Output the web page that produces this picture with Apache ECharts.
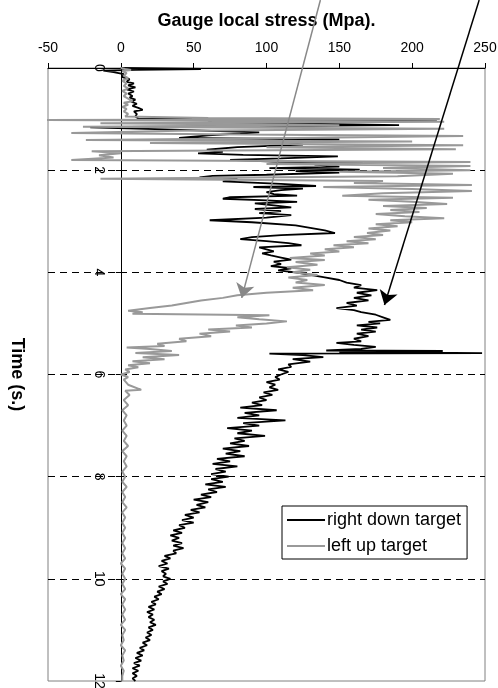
<!DOCTYPE html>
<html><head><meta charset="utf-8">
<script src="https://cdn.jsdelivr.net/npm/echarts@6/dist/echarts.min.js"></script>
<style>html,body{margin:0;padding:0;background:#fff}#c{width:498px;height:688px}</style>
</head><body><div id="c"></div>
<script>
// Time (s.) and gauge local stress (Mpa)
const rightTime = [0,0.02,0.035,0.05,0.08,0.12,0.18,0.22,0.27,0.30,0.34,0.38,0.42,0.46,0.50,0.55,0.58,0.62,0.66,0.70,0.74,0.78,0.82,0.85,0.90,0.95,0.99,
1.01,1.06,1.12,1.16,1.20,1.26,1.32,1.37,1.40,1.44,1.50,1.55,1.60,1.64,1.67,1.70,1.73,1.77,1.80,1.83,1.86,1.89,1.93,1.96,1.99,2.02,2.05,2.09,2.11,2.14,2.17,2.22,2.27,2.31,2.33,2.36,2.39,2.43,2.47,2.50,2.53,2.56,2.59,2.62,2.65,2.69,2.73,2.76,2.80,2.84,2.88,2.93,2.98,
3.02,3.08,3.13,3.18,3.23,3.27,3.31,3.35,3.39,3.43,3.47,3.51,3.55,3.59,3.63,3.67,3.71,3.75,3.79,3.84,3.88,3.92,3.96,
4.00,4.05,4.10,4.15,4.20,4.25,4.30,4.35,4.40,4.45,4.50,4.55,4.60,4.65,4.70,4.74,4.78,4.83,4.88,4.93,4.97,
5.00,5.04,5.08,5.12,5.16,5.20,5.25,5.30,5.35,5.38,5.42,5.46,5.50,5.53,5.54,5.56,5.58,5.59,5.62,5.66,5.70,5.75,5.80,5.85,5.90,5.95,
6.00,6.05,6.10,6.15,6.20,6.25,6.30,6.35,6.40,6.45,6.50,6.55,6.60,6.65,6.70,6.75,6.80,6.85,6.90,6.95,
7.00,7.05,7.10,7.15,7.20,7.25,7.30,7.35,7.40,7.45,7.50,7.55,7.60,7.65,7.70,7.75,7.80,7.85,7.90,7.95,
8.00,8.05,8.10,8.15,8.20,8.25,8.30,8.35,8.40,8.45,8.50,8.55,8.60,8.65,8.70,8.75,8.80,8.85,8.90,8.95,
9.00,9.05,9.10,9.15,9.20,9.25,9.30,9.35,9.40,9.45,9.50,9.55,9.60,9.65,9.70,9.75,9.80,9.85,9.90,9.95,
10.00,10.05,10.10,10.15,10.20,10.25,10.30,10.35,10.40,10.45,10.50,10.55,10.60,10.65,10.70,10.75,10.80,10.85,10.90,10.95,
11.00,11.05,11.10,11.15,11.20,11.25,11.30,11.35,11.40,11.45,11.50,11.55,11.60,11.65,11.70,11.75,11.80,11.85,11.90,11.95,12.00];
const rightStress = [0,55,10,-12,-5,2,1,6,4,9,5,10,4,9,5,8,6,10,7,11,8,12,15,9,11,10,12,
217,60,191,-21,30,95,60,40,150,110,125,80,59,70,53,84,149,110,75,104,166,133,150,102,164,120,150,100,63,54,80,70,110,134,91,125,110,100,105,121,75,70,100,121,92,105,117,92,110,95,117,100,61,
90,120,130,140,147,110,90,82,100,115,124,95,100,105,97,103,110,117,105,110,103,117,108,
120,130,140,150,155,165,160,176,162,172,160,170,155,162,148,160,165,175,180,185,170,
178,162,176,165,175,162,170,160,165,148,160,175,165,141,221,150,248,102,125,139,118,130,115,117,108,115,
110,106,109,100,106,102,108,98,104,95,100,90,97,82,107,85,95,80,113,84,
95,73,90,80,99,78,85,75,88,70,82,72,85,66,75,63,80,65,72,62,
74,62,70,58,72,60,66,55,62,50,60,52,58,48,54,44,50,42,50,40,
44,36,42,34,40,35,42,36,43,36,38,30,34,28,32,26,33,28,31,29,
34,29,32,26,30,25,28,23,26,21,24,19,23,18,22,19,23,20,24,19,
22,18,21,17,20,15,18,13,16,11,15,10,14,9,13,8,12,8,11,8,10];

const leftTime = [0,0.02,0.04,0.06,0.10,0.15,0.20,0.25,0.30,0.35,0.40,0.45,0.50,0.55,0.60,0.65,0.68,0.72,0.76,0.80,0.85,0.90,0.95,0.98,
1.00,1.02,1.05,1.08,1.12,1.15,1.19,1.23,1.27,1.30,1.33,1.37,1.41,1.44,1.47,1.51,1.55,1.59,1.63,1.67,1.71,1.75,1.80,1.84,1.88,1.92,1.96,
2.00,2.03,2.07,2.12,2.17,2.21,2.25,2.29,2.33,2.37,2.41,2.45,2.50,2.54,2.58,2.62,2.66,2.70,2.74,2.78,2.82,2.86,2.90,2.94,2.98,
3.02,3.06,3.10,3.14,3.18,3.23,3.27,3.31,3.35,3.39,3.43,3.47,3.51,3.55,3.59,3.63,3.67,3.72,3.76,3.80,3.85,3.90,3.95,
4.00,4.05,4.10,4.15,4.20,4.25,4.30,4.35,4.40,4.45,4.50,4.55,4.60,4.65,4.70,4.75,4.78,4.81,4.84,4.88,4.92,4.96,
5.00,5.04,5.08,5.12,5.16,5.20,5.25,5.30,5.35,5.40,5.44,5.47,5.50,5.54,5.58,5.62,5.66,5.70,5.74,5.78,5.82,5.86,5.90,5.95,
6.00,6.05,6.10,6.20,6.30,6.32,6.40,6.50,6.60,6.70,6.80,6.90,7.00,7.10,7.20,7.30,7.40,7.50,7.60,7.70,7.80,7.90,
8.00,8.10,8.20,8.30,8.40,8.50,8.60,8.70,8.80,8.90,9.00,9.10,9.20,9.30,9.40,9.50,9.60,9.70,9.80,9.90,
10.00,10.10,10.20,10.30,10.40,10.50,10.60,10.70,10.80,10.90,11.00,11.10,11.20,11.30,11.40,11.50,11.60,11.70,11.80,11.90,12.00];
const leftStress = [0,3,7,1,4,2,5,1,4,2,5,1,4,2,5,8,2,5,1,4,2,5,3,60,
219,-52,222,-14,150,-26,222,40,-34,82,235,120,-24,200,20,235,100,230,-20,0,-15,-5,-34,240,100,240,180,
240,150,228,190,-14,180,160,241,139,200,241,180,152,228,170,200,224,180,210,185,205,175,195,222,185,
200,175,190,170,185,169,180,160,175,155,170,146,160,140,150,130,140,116,140,120,135,114,130,
118,135,115,128,120,140,118,132,100,80,70,55,45,35,20,5,15,8,102,80,95,114,
100,79,90,60,75,54,62,40,45,25,30,4,20,35,10,40,15,30,8,20,5,12,3,6,
0,5,2,5,14,3,6,2,5,1,4,2,4,1,4,2,5,1,4,2,4,1,
3,1,4,1,3,1,4,1,3,1,3,1,3,1,3,1,3,0,3,1,
3,1,3,0,3,1,3,1,3,0,3,1,2,0,3,1,2,0,2,1,1];

// annotation arrows (data coordinates: stress, time)
const grayArrow = [[137, -1.33], [83, 4.5]];
const blackArrow = [[246, -1.33], [181, 4.64]];

const xMin = -50, xMax = 250, xStep = 50;
const yMin = 0, yMax = 12, yStep = 2;
const yAxisAt = 0; // the time axis crosses the stress axis at 0 Mpa

const zip = (t, v) => t.map((tt, i) => [v[i], tt]);
const FONT = "'Liberation Sans', Arial, sans-serif";

const chart = echarts.init(document.getElementById('c'), null, {renderer: 'canvas'});
chart.setOption({
  animation: false,
  backgroundColor: '#fff',
  textStyle: {fontFamily: FONT, color: '#000'},
  grid: {left: 48, right: 13, top: 68, bottom: 7, show: true, borderColor: '#808080', borderWidth: 1,
         backgroundColor: 'transparent', containLabel: false, outerBoundsMode: 'none'},
  legend: {
    orient: 'vertical', left: 282, top: 506,
    data: [{name: 'right down target', icon: 'rect'}, {name: 'left up target', icon: 'rect'}],
    itemWidth: 38, itemHeight: 2, itemGap: 8,
    padding: [5, 6, 4, 5],
    borderColor: '#000', borderWidth: 1, backgroundColor: '#fff',
    textStyle: {fontSize: 18, lineHeight: 18, fontFamily: FONT, color: '#000', padding: [0, 0, 0, -3]}
  },
  xAxis: {
    type: 'value', position: 'top', min: xMin, max: xMax, interval: xStep,
    name: 'Gauge local stress (Mpa).', nameLocation: 'middle', nameGap: 38,
    nameTextStyle: {fontSize: 18, fontWeight: 'bold', fontFamily: FONT, color: '#000'},
    axisLine: {onZero: false, lineStyle: {color: '#000', width: 1}},
    axisTick: {show: true, length: 5, lineStyle: {color: '#000'}},
    axisLabel: {fontSize: 14, margin: 13, color: '#000', fontFamily: FONT},
    splitLine: {show: false}
  },
  yAxis: {
    type: 'value', inverse: true, min: yMin, max: yMax, interval: yStep,
    name: 'Time (s.)', nameLocation: 'middle', nameRotate: -90, nameGap: 95,
    nameTextStyle: {fontSize: 18, fontWeight: 'bold', fontFamily: FONT, color: '#000'},
    axisLine: {onZero: false, lineStyle: {color: '#000', width: 1}},
    axisTick: {show: true, length: 5, lineStyle: {color: '#000'}},
    axisLabel: {fontSize: 14, margin: 15, rotate: -90, color: '#000', fontFamily: FONT},
    splitLine: {show: true, showMinLine: false, showMaxLine: false, lineStyle: {color: '#000', width: 1, type: [7, 5]}}
  },
  series: [
    {name: 'right down target', type: 'line', data: zip(rightTime, rightStress), symbol: 'none', showSymbol: false,
     lineStyle: {color: '#000', width: 1.8}, itemStyle: {color: '#000'}, z: 3},
    {name: 'left up target', type: 'line', data: zip(leftTime, leftStress), symbol: 'none', showSymbol: false,
     lineStyle: {color: '#999999', width: 2}, itemStyle: {color: '#999999'}, z: 4},
    {type: 'lines', coordinateSystem: 'cartesian2d', clip: false, silent: true, z: 5,
     symbol: ['none', 'arrow'], symbolSize: [10, 14],
     lineStyle: {color: '#888888', width: 1.5, opacity: 1, curveness: 0},
     data: [{coords: grayArrow}]},
    {type: 'lines', coordinateSystem: 'cartesian2d', clip: false, silent: true, z: 5,
     symbol: ['none', 'arrow'], symbolSize: [10, 14],
     lineStyle: {color: '#000', width: 1.5, opacity: 1, curveness: 0},
     data: [{coords: blackArrow}]}
  ]
});
// move the time axis (line, ticks, labels, name) to stress = 0 using the library's own scale
const pxZero = chart.convertToPixel({xAxisIndex: 0}, yAxisAt);
const pxLeft = chart.convertToPixel({xAxisIndex: 0}, xMin);
chart.setOption({yAxis: {offset: pxLeft - pxZero}});
</script></body></html>
